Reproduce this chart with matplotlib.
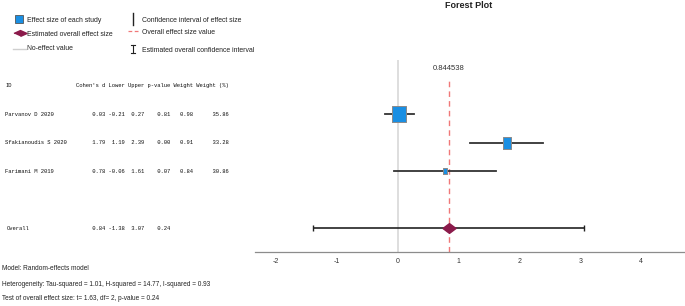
import numpy as np
import matplotlib.pyplot as plt
from matplotlib.lines import Line2D
from matplotlib.transforms import blended_transform_factory

# data
studies = ["Parvanov D 2020", "Sfakianoudis S 2020", "Farimani M 2019"]
cohen_d = [0.03, 1.79, 0.78]
lower = [-0.21, 1.19, -0.06]
upper = [0.27, 2.39, 1.61]
p_values = [0.81, 0.00, 0.07]
weights = [0.98, 0.91, 0.84]
weight_pct = [35.86, 33.28, 30.86]

overall_d = 0.844538
overall_lower = -1.38
overall_upper = 3.07
overall_p = 0.24

x_ticks = [-2, -1, 0, 1, 2, 3, 4]

footer = ["Model: Random-effects model",
          "Heterogeneity: Tau-squared = 1.01, H-squared = 14.77, I-squared = 0.93",
          "Test of overall effect size: t= 1.63, df= 2, p-value = 0.24"]

W, H = 685, 306
def fx(x):
    return x / W
def fy(y):
    return 1 - y / H

sans = ['Liberation Sans Narrow', 'Liberation Sans', 'DejaVu Sans']
mono = ['Liberation Mono', 'DejaVu Sans Mono']

blue = '#1a8fe3'
maroon = '#8b1a4b'
red = '#f07878'

fig = plt.figure(figsize=(6.85, 3.06), dpi=100)
ax = fig.add_axes([fx(255), fy(252), (685 - 255) / W, (252 - 60) / H])
ax.set_xlim((255 - 397.5) / 60.9, (685 - 397.5) / 60.9)
ax.set_ylim(4.84, -1.9)

for s in ['top', 'left', 'right']:
    ax.spines[s].set_visible(False)
ax.spines['bottom'].set_color('#8c8c8c')
ax.spines['bottom'].set_linewidth(0.9)
ax.set_yticks([])
ax.set_xticks(x_ticks)
ax.set_xticklabels([str(t) for t in x_ticks], family=sans, fontsize=5)
ax.tick_params(axis='x', length=0, pad=4, labelcolor='#333333')

# no-effect line and overall effect line
ax.axvline(0, color='#d8d8d8', lw=1.2, zorder=0)
ax.axvline(overall_d, ymax=0.896, color=red, lw=1.0, ls=(0, (4, 3)), zorder=1)
ax.text(overall_d, -1.6, f"{overall_d:.6f}", ha='center', va='center',
        family=sans, fontsize=5.5, color='#333333')

rect = [(-0.78, -1), (0.78, -1), (0.78, 1), (-0.78, 1), (-0.78, -1)]
diamond = [(-1, 0), (0, 0.75), (1, 0), (0, -0.75), (-1, 0)]

rows = np.arange(len(studies))
for i in range(len(studies)):
    ax.plot([lower[i], upper[i]], [rows[i], rows[i]], color='#333333', lw=1.3, zorder=2)
    h = 5.7 + (weight_pct[i] - min(weight_pct)) * 2.2
    ax.plot(cohen_d[i], rows[i], marker=rect, ms=h * 0.72, mfc=blue,
            mec='#8a8a8a', mew=0.7, ls='none', zorder=3)

overall_row = 4
ax.errorbar(overall_d, overall_row,
            xerr=[[overall_d - overall_lower], [overall_upper - overall_d]],
            fmt='none', ecolor='#222222', elinewidth=1.2, capsize=2.2, capthick=1, zorder=2)
ax.plot(overall_d, overall_row, marker=diamond, ms=9.4, color=maroon, ls='none', zorder=3)

# table on the left
tr = blended_transform_factory(fig.transFigure, ax.transData)
header = "Cohen's d Lower Upper p-value Weight Weight (%)"
tk = dict(family=mono, fontsize=3.95, va='center', ha='left', transform=tr, color='#111111')
ax.text(fx(5), -1, "ID", **tk)
ax.text(fx(76), -1, header, **tk)
for i in range(len(studies)):
    line = (f"{cohen_d[i]:>9.2f} {lower[i]:>5.2f} {upper[i]:>5.2f} "
            f"{p_values[i]:>7.2f} {weights[i]:>6.2f} {weight_pct[i]:>10.2f}")
    ax.text(fx(5), rows[i], studies[i], **tk)
    ax.text(fx(76), rows[i], line, **tk)
ov = f"{overall_d:>9.2f} {overall_lower:>5.2f} {overall_upper:>5.2f} {overall_p:>7.2f}"
ax.text(fx(7), overall_row, "Overall", **tk)
ax.text(fx(76), overall_row, ov, **tk)

# title
fig.text(fx(469), fy(5), "Forest Plot", ha='center', va='center',
         family=sans, fontsize=6.5, fontweight='bold', color='#222222')

# legend drawn by hand
lk = dict(family=sans, fontsize=4.95, va='center', ha='left', color='#222222')
fig.add_artist(Line2D([fx(18.5)], [fy(19)], marker='s', ms=5.3, mfc=blue, mec='#555555',
                      mew=0.6, transform=fig.transFigure))
fig.text(fx(27), fy(20), "Effect size of each study", **lk)
fig.add_artist(Line2D([fx(19.5)], [fy(33)], marker=[(-1, 0), (0, 0.45), (1, 0), (0, -0.45)],
                      ms=9.4, color=maroon, transform=fig.transFigure))
fig.text(fx(27), fy(34), "Estimated overall effect size", **lk)
fig.add_artist(Line2D([fx(13), fx(26)], [fy(49), fy(49)], color='#cfcfcf', lw=1,
                      transform=fig.transFigure))
fig.text(fx(27), fy(49), "No-effect value", **lk)

fig.add_artist(Line2D([fx(133), fx(133)], [fy(13), fy(25)], color='#222222', lw=1,
                      transform=fig.transFigure))
fig.text(fx(142), fy(20), "Confidence interval of effect size", **lk)
fig.add_artist(Line2D([fx(128), fx(139)], [fy(31), fy(31)], color=red, lw=0.9,
                      ls=(0, (3, 2)), transform=fig.transFigure))
fig.text(fx(142), fy(32), "Overall effect size value", **lk)
fig.add_artist(Line2D([fx(133), fx(133)], [fy(45), fy(53)], color='#222222', lw=0.8,
                      transform=fig.transFigure))
fig.add_artist(Line2D([fx(131), fx(135)], [fy(45), fy(45)], color='#222222', lw=0.8,
                      transform=fig.transFigure))
fig.add_artist(Line2D([fx(131), fx(135)], [fy(53), fy(53)], color='#222222', lw=0.8,
                      transform=fig.transFigure))
fig.text(fx(142), fy(50), "Estimated overall confidence interval", **lk)

# footer
fk = dict(lk, fontsize=4.7)
for k, txt in enumerate(footer):
    fig.text(fx(2), fy(269 + 15 * k), txt, **fk)

fig.savefig("out.png", dpi=100)
